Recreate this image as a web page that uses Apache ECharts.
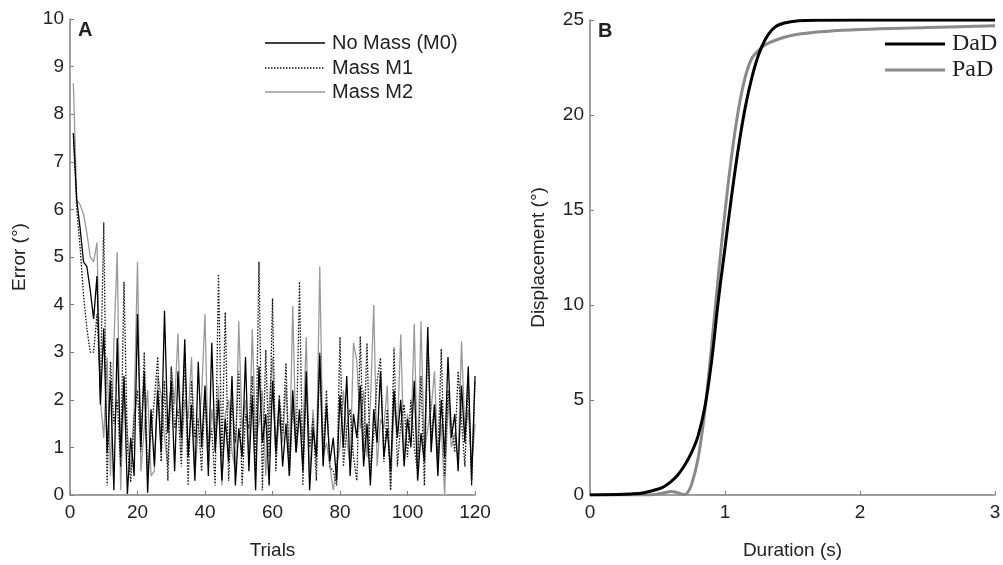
<!DOCTYPE html>
<html><head><meta charset="utf-8">
<script src="https://cdn.jsdelivr.net/npm/echarts@6/dist/echarts.min.js"></script>
<style>html,body{margin:0;padding:0;background:#fff}#c{width:1003px;height:565px}</style>
</head><body><div id="c"></div>
<script>
// Panel A: error per trial (trials 1..120)
var noMassM0 = [7.6,6.2,5.6,4.9,4.8,4.3,3.7,4.6,1.9,3.5,0.9,2.4,0.1,3.3,0.8,2.5,0.02,1.2,0.4,3.8,
1.0,2.6,0.05,1.8,0.6,2.2,0.9,3.87,1.3,2.4,0.5,2.6,1.2,3.27,0.8,1.9,0.3,2.8,1.0,2.3,
0.4,3.2,0.9,2.0,0.3,1.6,0.7,2.5,0.2,1.4,0.8,2.9,0.5,2.1,0.1,2.7,1.1,1.7,0.2,2.4,
0.9,2.0,0.6,1.5,0.4,2.2,0.9,1.8,0.5,2.6,0.1,1.4,0.8,2.94,0.6,1.9,0.7,1.2,0.3,2.1,
1.0,2.5,0.4,1.7,1.2,2.3,0.6,1.5,0.2,1.8,1.1,2.6,0.8,1.4,0.5,2.2,1.2,2.0,0.6,1.6,
1.0,2.4,0.3,1.3,0.7,3.53,0.9,1.9,0.4,2.0,0.8,2.9,1.2,1.7,0.5,2.3,1.1,2.7,0.3,2.5];
var massM1 = [7.6,6.0,5.2,4.2,3.5,3.0,3.0,3.8,2.2,5.73,0.2,2.8,1.5,2.0,0.6,4.48,1.0,0.27,1.6,2.2,
0.9,3.0,0.4,1.3,2.0,2.9,0.7,2.4,0.3,2.7,1.4,1.8,0.6,3.0,0.2,2.4,1.2,1.6,0.5,2.2,
1.0,1.4,0.2,4.64,0.8,3.84,0.3,2.0,1.1,2.6,0.2,1.7,1.4,2.5,0.6,4.9,0.1,3.05,0.8,4.13,
0.5,2.1,1.3,2.77,0.4,1.9,0.9,4.48,0.2,2.3,1.0,1.6,0.3,3.0,0.9,2.2,0.6,0.5,0.2,3.32,
0.6,1.4,1.8,0.8,0.3,3.33,0.9,3.19,0.4,1.3,2.4,2.88,0.7,1.8,0.1,3.1,0.6,1.5,1.9,0.8,
2.0,1.0,0.5,2.5,0.2,3.3,1.2,1.9,0.7,3.07,0.4,2.2,1.5,0.9,2.6,1.6,0.6,2.4,0.2,2.4];
var massM2 = [8.65,6.2,6.1,5.9,5.5,5.0,4.9,5.3,2.0,1.2,2.9,0.4,3.2,5.1,0.1,2.2,1.3,0.5,1.8,4.9,
0.5,1.4,2.2,0.4,0.5,2.5,2.1,1.2,0.6,2.7,1.9,3.4,0.9,2.0,1.6,2.9,0.4,1.4,2.1,3.8,
0.6,1.8,1.2,2.3,0.2,1.7,2.0,0.9,0.5,3.65,1.4,2.0,0.7,3.48,1.2,1.5,2.2,0.4,1.9,2.9,
0.8,1.6,1.1,2.3,0.6,3.97,0.9,1.7,1.2,3.32,0.3,1.8,0.6,4.8,0.8,1.1,0.6,0.1,0.6,1.0,
2.2,1.2,0.6,3.2,2.8,1.4,2.2,0.8,1.9,3.99,0.6,1.6,1.4,2.3,0.1,1.9,1.3,3.37,0.8,1.7,
1.1,3.6,0.5,3.65,0.9,1.4,1.8,2.6,0.7,1.5,0.0,2.0,1.0,1.3,0.7,3.23,1.3,1.8,0.6,1.5];
var errorTicksA = [0,1,2,3,4,5,6,7,8,9,10];
var trialTicksA = [0,20,40,60,80,100,120];
var legendA = ['No Mass (M0)','Mass M1','Mass M2'];

// Panel B: displacement vs duration
var dadTime = [0,0.2,0.3,0.4,0.5,0.55,0.6,0.65,0.7,0.75,0.8,0.85,0.9,0.95,1.0,1.05,1.1,1.15,1.2,1.25,1.3,1.35,1.4,1.5,1.6,2.0,2.5,3.0];
var dadDisp = [0,0.02,0.05,0.12,0.3,0.45,0.7,1.05,1.55,2.2,3.1,4.6,7.0,10.2,13.0,15.8,18.3,20.4,22.0,23.2,24.0,24.5,24.75,24.92,24.98,25,25,25];
var padTime = [0,0.4,0.5,0.55,0.6,0.65,0.7,0.72,0.75,0.8,0.85,0.9,0.95,1.0,1.05,1.1,1.15,1.2,1.25,1.3,1.4,1.5,1.75,2.0,2.5,3.0];
var padDisp = [0,0,0.05,0.12,0.18,0.12,0.02,0.1,0.5,1.9,4.4,7.8,11.5,14.9,17.9,20.3,22.0,23.0,23.4,23.7,24.0,24.2,24.4,24.5,24.6,24.7];
var legendB = ['DaD','PaD'];

function pairs(xs, ys){ return ys.map(function(v,i){ return [xs[i], v]; }); }
function trialPairs(ys){ return ys.map(function(v,i){ return [i+1, v]; }); }

var axisGray = '#808080';
var sans = 'Liberation Sans, Arial, sans-serif';
var serif = 'Liberation Serif, Times New Roman, serif';
var labelStyle = {color:'#222', fontSize:19, fontFamily:sans};
function xAx(idx, min, max, interval, name, gap){
  return {gridIndex:idx, type:'value', min:min, max:max, interval:interval,
    name:name, nameLocation:'middle', nameGap:gap,
    nameTextStyle:{color:'#222', fontSize:19, fontFamily:sans},
    axisLine:{show:true, lineStyle:{color:axisGray, width:1.5}},
    axisTick:{show:true, inside:true, length:4, lineStyle:{color:axisGray}},
    axisLabel:Object.assign({margin:8}, labelStyle),
    splitLine:{show:false}};
}
function yAx(idx, min, max, interval, name, gap){
  return {gridIndex:idx, type:'value', min:min, max:max, interval:interval,
    name:name, nameLocation:'middle', nameGap:gap, nameRotate:90,
    nameTextStyle:{color:'#222', fontSize:19, fontFamily:sans},
    axisLine:{show:true, lineStyle:{color:axisGray, width:1.5}},
    axisTick:{show:true, inside:true, length:4, lineStyle:{color:axisGray}},
    axisLabel:Object.assign({margin:6}, labelStyle),
    splitLine:{show:false}};
}

// legend drawn with graphic elements (line sample + real text)
var colA = ['#000','#111','#9a9a9a'];
var dashA = [null,[1.5,1.5],null];
var rowA = [43,68,92];
var colB = ['#000','#8a8a8a'];
var rowB = [44,70];
var graphics = [
  {type:'text', left:78, top:20, style:{text:'A', fontSize:20, fontWeight:'bold', fill:'#222', fontFamily:sans}},
  {type:'text', left:598, top:21, style:{text:'B', fontSize:20, fontWeight:'bold', fill:'#222', fontFamily:sans}}
];
legendA.forEach(function(n,i){
  var ls = {stroke:colA[i], lineWidth:1.3};
  if (dashA[i]) ls.lineDash = dashA[i];
  graphics.push({type:'line', shape:{x1:265,y1:rowA[i],x2:325,y2:rowA[i]}, style:ls});
  graphics.push({type:'text', x:332, y:rowA[i], style:{text:n, fill:'#222', fontSize:20, fontFamily:sans, verticalAlign:'middle', align:'left'}});
});
legendB.forEach(function(n,i){
  graphics.push({type:'line', shape:{x1:885,y1:rowB[i],x2:945,y2:rowB[i]}, style:{stroke:colB[i], lineWidth:3}});
  graphics.push({type:'text', x:952, y:rowB[i], style:{text:n, fill:'#222', fontSize:24, fontFamily:serif, verticalAlign:'middle', align:'left'}});
});

var chart = echarts.init(document.getElementById('c'), null, {renderer:'canvas'});
chart.setOption({
  animation:false,
  backgroundColor:'#fff',
  grid:[
    {left:70, top:19, width:405, height:476, outerBoundsMode:'none', containLabel:false},
    {left:590, top:20, width:405, height:475, outerBoundsMode:'none', containLabel:false}
  ],
  xAxis:[ xAx(0,trialTicksA[0],trialTicksA[trialTicksA.length-1],20,'Trials',46),
          xAx(1,0,3,1,'Duration (s)',46) ],
  yAxis:[ yAx(0,errorTicksA[0],errorTicksA[errorTicksA.length-1],1,'Error (°)',41),
          yAx(1,0,25,5,'Displacement (°)',42) ],
  graphic:graphics,
  series:[
    {name:legendA[2], type:'line', xAxisIndex:0, yAxisIndex:0, symbol:'none', data:trialPairs(massM2),
     lineStyle:{color:colA[2], width:1.3}},
    {name:legendA[1], type:'line', xAxisIndex:0, yAxisIndex:0, symbol:'none', data:trialPairs(massM1),
     lineStyle:{color:colA[1], width:1.3, type:[1.5,1.5]}},
    {name:legendA[0], type:'line', xAxisIndex:0, yAxisIndex:0, symbol:'none', data:trialPairs(noMassM0),
     lineStyle:{color:colA[0], width:1.3}},
    {name:legendB[1], type:'line', xAxisIndex:1, yAxisIndex:1, symbol:'none', smooth:0.4, data:pairs(padTime,padDisp),
     lineStyle:{color:colB[1], width:3}},
    {name:legendB[0], type:'line', xAxisIndex:1, yAxisIndex:1, symbol:'none', smooth:0.4, data:pairs(dadTime,dadDisp),
     lineStyle:{color:colB[0], width:3}}
  ]
});
</script></body></html>
